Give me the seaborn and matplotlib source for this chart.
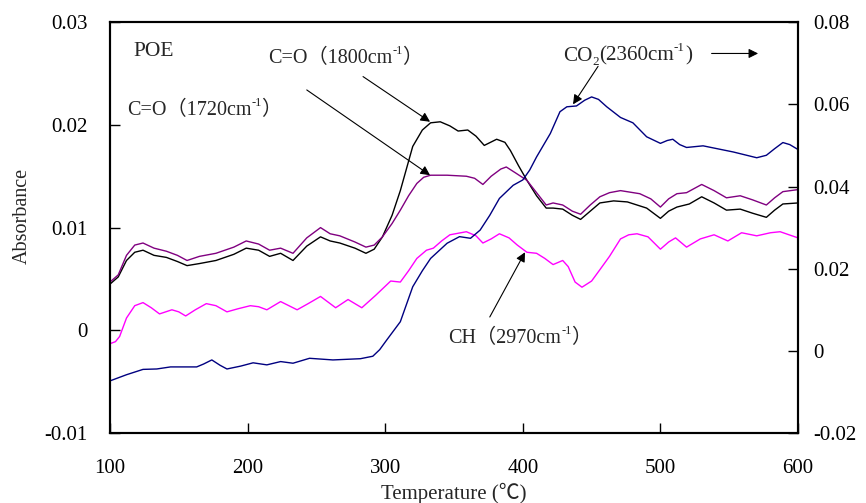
import numpy as np
import pandas as pd
import matplotlib
matplotlib.use('Agg')
import matplotlib.pyplot as plt
from matplotlib.ticker import FuncFormatter
import seaborn as sns

# C=O (1800 cm-1), left axis
t_1800 = [100, 106, 112, 118, 124, 132, 141, 149, 156, 165, 177, 190, 199, 208, 216, 224, 233,
          243, 253, 260, 267, 278, 286, 292, 298, 305, 311, 320, 327, 333, 340, 347, 353, 360,
          366, 372, 381, 387, 391, 397, 403, 410, 417, 422, 429, 436, 442, 449, 456, 466, 476,
          490, 500, 506, 512, 521, 530, 539, 548, 558, 567, 577, 583, 589, 600]
a_1800 = [0.0045, 0.0052, 0.0068, 0.0076, 0.0078, 0.0073, 0.0071, 0.0067, 0.0063, 0.0065, 0.0068,
          0.0074, 0.0080, 0.0078, 0.0072, 0.0075, 0.0068, 0.0082, 0.0091, 0.0087, 0.0085, 0.0080,
          0.0075, 0.0079, 0.0091, 0.0112, 0.0136, 0.0179, 0.0195, 0.0202, 0.0203, 0.0199, 0.0194,
          0.0195, 0.0189, 0.0180, 0.0186, 0.0183, 0.0175, 0.0160, 0.0146, 0.0131, 0.0119, 0.0119,
          0.0118, 0.0112, 0.0108, 0.0116, 0.0124, 0.0126, 0.0125, 0.0119, 0.0109, 0.0116, 0.0120,
          0.0123, 0.0130, 0.0124, 0.0117, 0.0118, 0.0114, 0.0110, 0.0117, 0.0123, 0.0124]

# C=O (1720 cm-1), left axis
t_1720 = [100, 106, 112, 118, 124, 132, 141, 149, 156, 165, 177, 190, 199, 208, 216, 224, 233,
          243, 253, 260, 267, 278, 286, 292, 298, 305, 311, 317, 323, 328, 333, 345, 359, 365,
          371, 377, 384, 388, 395, 403, 410, 417, 422, 429, 436, 442, 449, 456, 463, 471, 485,
          493, 500, 506, 512, 519, 530, 539, 548, 558, 567, 577, 583, 589, 600]
a_1720 = [0.0047, 0.0054, 0.0073, 0.0083, 0.0085, 0.0080, 0.0077, 0.0073, 0.0068, 0.0072, 0.0075,
          0.0081, 0.0087, 0.0084, 0.0078, 0.0080, 0.0075, 0.0090, 0.0100, 0.0094, 0.0092, 0.0086,
          0.0081, 0.0083, 0.0091, 0.0104, 0.0117, 0.0131, 0.0143, 0.0149, 0.0151, 0.0151, 0.0150,
          0.0148, 0.0142, 0.0150, 0.0157, 0.0159, 0.0153, 0.0146, 0.0134, 0.0122, 0.0124, 0.0122,
          0.0116, 0.0113, 0.0122, 0.0130, 0.0134, 0.0136, 0.0133, 0.0128, 0.0120, 0.0128, 0.0133,
          0.0134, 0.0142, 0.0136, 0.0129, 0.0131, 0.0127, 0.0122, 0.0129, 0.0135, 0.0137]

# CH (2970 cm-1), left axis
t_ch = [100, 104, 107, 112, 118, 124, 130, 136, 145, 150, 155, 162, 170, 177, 185, 193, 202,
        208, 214, 224, 230, 236, 244, 253, 258, 264, 273, 278, 283, 293, 304, 311, 317, 323,
        330, 335, 341, 347, 359, 366, 371, 377, 383, 390, 396, 403, 410, 416, 422, 429, 433,
        438, 443, 450, 456, 463, 471, 477, 483, 491, 500, 506, 511, 519, 529, 539, 549, 559,
        570, 580, 587, 600]
a_ch = [-0.0013, -0.0011, -0.0006, 0.0012, 0.0024, 0.0027, 0.0022, 0.0016, 0.0020, 0.0018,
        0.0014, 0.0020, 0.0026, 0.0024, 0.0018, 0.0021, 0.0024, 0.0023, 0.0020, 0.0028, 0.0024,
        0.0020, 0.0026, 0.0033, 0.0028, 0.0022, 0.0030, 0.0026, 0.0022, 0.0034, 0.0048, 0.0047,
        0.0058, 0.0070, 0.0078, 0.0080, 0.0087, 0.0093, 0.0096, 0.0092, 0.0085, 0.0089, 0.0094,
        0.0090, 0.0083, 0.0076, 0.0075, 0.0070, 0.0064, 0.0068, 0.0062, 0.0047, 0.0042, 0.0048,
        0.0059, 0.0072, 0.0089, 0.0093, 0.0094, 0.0091, 0.0079, 0.0086, 0.0090, 0.0081, 0.0089,
        0.0093, 0.0087, 0.0095, 0.0092, 0.0095, 0.0096, 0.0090]

# CO2 (2360 cm-1), right axis
t_co2 = [100, 112, 124, 134, 144, 163, 168, 174, 180, 185, 195, 204, 214, 224, 233, 245, 262,
         282, 291, 296, 301, 311, 320, 327, 333, 345, 354, 362, 369, 376, 383, 393, 400, 405,
         410, 420, 427, 432, 439, 445, 450, 455, 461, 471, 480, 490, 500, 505, 509, 514, 519,
         531, 553, 570, 577, 583, 589, 594, 600]
a_co2 = [-0.0073, -0.0058, -0.0045, -0.0044, -0.0039, -0.0039, -0.0032, -0.0022, -0.0035,
         -0.0044, -0.0037, -0.0029, -0.0034, -0.0026, -0.0030, -0.0018, -0.0022, -0.0019,
         -0.0013, 0.0003, 0.0026, 0.0071, 0.0156, 0.0195, 0.0225, 0.0262, 0.0278, 0.0274,
         0.0294, 0.0330, 0.0371, 0.0403, 0.0416, 0.0440, 0.0472, 0.0529, 0.0582, 0.0594,
         0.0596, 0.0610, 0.0618, 0.0612, 0.0594, 0.0568, 0.0555, 0.0521, 0.0505, 0.0512,
         0.0515, 0.0502, 0.0495, 0.0499, 0.0484, 0.0470, 0.0476, 0.0492, 0.0507, 0.0502, 0.0490]

x_ticks = [100, 200, 300, 400, 500, 600]
left_ticks = [-0.01, 0, 0.01, 0.02, 0.03]
right_ticks = [-0.02, 0, 0.02, 0.04, 0.06, 0.08]

# label pieces: (text, kind) with kind n = normal, sup = superscript, sub = subscript
lab_1800 = [('C=O（1800cm', 'n'), ('-1', 'sup'), ('）', 'n')]
lab_1720 = [('C=O（1720cm', 'n'), ('-1', 'sup'), ('）', 'n')]
lab_ch = [('CH（2970cm', 'n'), ('-1', 'sup'), ('）', 'n')]
lab_co2 = [('CO', 'n'), ('2', 'sub'), ('(2360cm', 'n'), ('-1', 'sup'), (')', 'n')]

sns.set_style('ticks')
fonts = ['Liberation Serif', 'Noto Sans CJK SC', 'DejaVu Sans']
plt.rcParams['font.family'] = fonts

fig = plt.figure(figsize=(8.66, 5.03), dpi=100)
ax = fig.add_axes([0.127, 0.139, 0.7945, 0.817])
ax2 = ax.twinx()

sns.lineplot(x=t_1800, y=a_1800, ax=ax, color='#000000', lw=1.0)
sns.lineplot(x=t_1720, y=a_1720, ax=ax, color='#800080', lw=1.0)
sns.lineplot(x=t_ch, y=a_ch, ax=ax, color='#ff00ff', lw=1.0)
sns.lineplot(x=t_co2, y=a_co2, ax=ax2, color='#000080', lw=1.0)

ax.set_xlim(100, 600)
ax.set_ylim(-0.01, 0.03)
ax2.set_ylim(-0.02, 0.08)
ax.set_xticks(x_ticks)
ax.set_yticks(left_ticks)
ax2.set_yticks(right_ticks)
fmt = FuncFormatter(lambda v, p: '{:g}'.format(round(v, 4)))
ax.yaxis.set_major_formatter(fmt)
ax2.yaxis.set_major_formatter(fmt)

ax.tick_params(axis='x', direction='in', length=7, width=1, labelsize=15, pad=19, colors='black')
ax.tick_params(axis='y', direction='in', length=7, width=1, labelsize=15, pad=16, colors='black')
ax2.tick_params(axis='y', direction='in', length=7, width=1, labelsize=15, pad=11, colors='black')
for a in (ax, ax2):
    for s in a.spines.values():
        s.set_visible(True)
        s.set_linewidth(1.5)
        s.set_color('black')

ax.set_xlabel('Temperature (℃)', fontsize=15, labelpad=3)
ax.set_ylabel('Absorbance', fontsize=14.5, labelpad=9)
ax.yaxis.label.set_y(0.528)
ax2.set_ylabel('')

renderer = fig.canvas.get_renderer()


def rich_text(x, y, parts, size=14.5):
    # lay the pieces out one after another on a common baseline
    dx = 0.0
    for txt, kind in parts:
        fs = size if kind == 'n' else size * 0.62
        dy = {'n': 0.0, 'sup': size * 0.45, 'sub': -size * 0.18}[kind]
        t = ax.annotate(txt, xy=(x, y), xycoords='data', xytext=(dx, dy),
                        textcoords='offset points', fontsize=fs, ha='left', va='baseline',
                        annotation_clip=False)
        dx += t.get_window_extent(renderer).width * 72.0 / fig.dpi


ax.text(116.9, 0.0267, 'POE', fontsize=15.5, va='baseline', ha='left')
rich_text(214.8, 0.0260, lab_1800)
rich_text(112.1, 0.02095, lab_1720)
rich_text(345.8, -0.00127, lab_ch)
rich_text(429.4, 0.02623, lab_co2, size=15.2)

arrow = dict(arrowstyle='-|>', color='black', lw=0.8, mutation_scale=14, shrinkA=0, shrinkB=0)
ax.annotate('', xy=(332.6, 0.0203), xytext=(283.9, 0.0247), arrowprops=arrow)
ax.annotate('', xy=(332.6, 0.0151), xytext=(243, 0.0234), arrowprops=arrow)
ax.annotate('', xy=(401.6, 0.0076), xytext=(376, 0.0013), arrowprops=arrow)
ax.annotate('', xy=(436.5, 0.0220), xytext=(454.7, 0.0257), arrowprops=arrow)
ax.annotate('', xy=(571, 0.02695), xytext=(537.2, 0.02695), arrowprops=arrow)

fig.savefig('out.png', dpi=100)
